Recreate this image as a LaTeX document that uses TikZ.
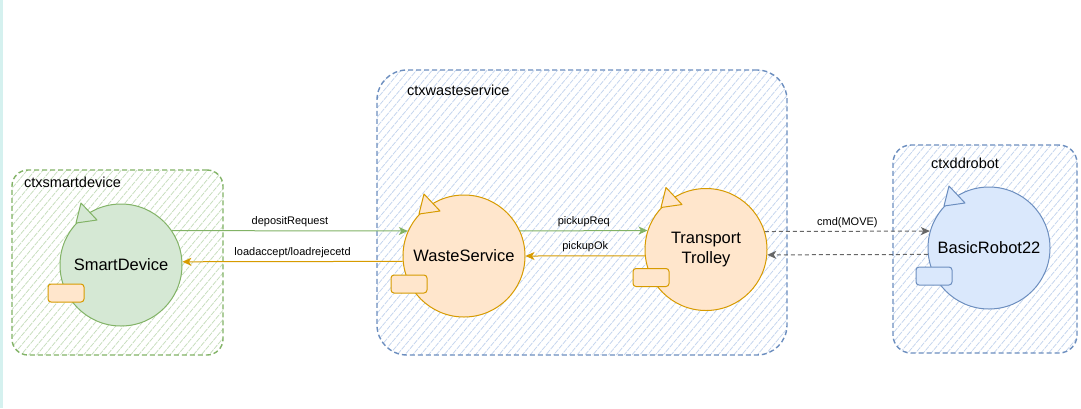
\documentclass[tikz,border=0pt]{standalone}
\usepackage{fontspec}
\setmainfont{Liberation Sans}
\usetikzlibrary{arrows.meta,patterns.meta,calc}

\definecolor{sdfill}{HTML}{D5E8D4}
\definecolor{sdline}{HTML}{82B366}
\definecolor{wsfill}{HTML}{FFE6CC}
\definecolor{wsline}{HTML}{D79B00}
\definecolor{brfill}{HTML}{DAE8FC}
\definecolor{brline}{HTML}{6C8EBF}
\definecolor{msgline}{HTML}{666666}
\definecolor{greenhatch}{HTML}{C6DDBC}
\definecolor{bluehatch}{HTML}{C3D4EE}
\definecolor{edgestrip}{HTML}{D5F1EF}

\tikzset{
  ctx/.style 2 args={draw=#1, dashed, dash pattern=on 5pt off 3pt, line width=1.4pt,
    pattern={Lines[angle=50,distance=6pt,line width=0.75pt]}, pattern color=#2,
    inner sep=0pt, outer sep=0pt},
  ctxlabel/.style={anchor=west, inner sep=0pt, font=\fontsize{14.5}{17}\selectfont},
  actor/.style 2 args={circle, draw=#2, fill=#1, line width=1pt, minimum size=122pt,
    inner sep=0pt, align=center, font=\fontsize{16.5}{20.5}\selectfont},
  inbox/.style 2 args={draw=#2, fill=#1, line width=1pt, rounded corners=3pt,
    minimum width=36pt, minimum height=18pt, inner sep=0pt},
  msg/.style={line width=1pt, -{Stealth[length=9pt,width=8pt,inset=2.5pt]}},
  msglabel/.style={font=\fontsize{11}{13}\selectfont, text=black},
}

\begin{document}
\begin{tikzpicture}[x=1pt,y=-1pt]
    \fill[white] (0,0) rectangle (1081,408);
    \useasboundingbox (0,0) rectangle (1081,408);
    \fill[edgestrip] (0,0) rectangle (3,408);

    % contexts
    \node[ctx={sdline}{greenhatch}, rounded corners=16pt, minimum width=211pt, minimum height=185pt] (ctxsd) at (117.5,262.5) {};
    \node[ctx={brline}{bluehatch}, rounded corners=30pt, minimum width=410pt, minimum height=285pt] (ctxws) at (582,212.5) {};
    \node[ctx={brline}{bluehatch}, rounded corners=18pt, minimum width=184pt, minimum height=208pt] (ctxbr) at (985,249) {};
    \node[ctxlabel] (ctxsdlabel) at ($(ctxsd.north west)+(12,12)$) {ctxsmartdevice};
    \node[ctxlabel] (ctxwslabel) at ($(ctxws.north west)+(30,20)$) {ctxwasteservice};
    \node[ctxlabel] (ctxbrlabel) at ($(ctxbr.north west)+(38,18)$) {ctxddrobot};

    % actors
    \node[actor={sdfill}{sdline}] (sd) at (121,265) {SmartDevice};
    \node[actor={wsfill}{wsline}] (ws) at (464,256) {WasteService};
    \node[actor={wsfill}{wsline}] (tt) at (706,249.5) {Transport\\Trolley};
    \node[actor={brfill}{brline}] (br) at (989,248) {BasicRobot22};

    \draw[sdline, fill=sdfill, line width=1pt, line join=round] ($(sd)+(-40,-62)$) -- ($(sd)+(-45,-42)$) -- ($(sd)+(-24,-45)$) -- cycle;
    \draw[wsline, fill=wsfill, line width=1pt, line join=round] ($(ws)+(-40,-62)$) -- ($(ws)+(-45,-42)$) -- ($(ws)+(-24,-45)$) -- cycle;
    \draw[wsline, fill=wsfill, line width=1pt, line join=round] ($(tt)+(-40,-62)$) -- ($(tt)+(-45,-42)$) -- ($(tt)+(-24,-45)$) -- cycle;
    \draw[brline, fill=brfill, line width=1pt, line join=round] ($(br)+(-40,-62)$) -- ($(br)+(-45,-42)$) -- ($(br)+(-24,-45)$) -- cycle;

    \node[inbox={wsfill}{wsline}] (sdbox) at ($(sd)+(-55,28)$) {};
    \node[inbox={wsfill}{wsline}] (wsbox) at ($(ws)+(-55,28)$) {};
    \node[inbox={wsfill}{wsline}] (ttbox) at ($(tt)+(-55,28)$) {};
    \node[inbox={brfill}{brline}] (brbox) at ($(br)+(-55,28)$) {};

    % messages
    \draw[msg, sdline] (sd.34) -- node[msglabel, above] {depositRequest} (ws.156);
    \draw[msg, wsline] (ws.185) -- node[msglabel, above] {loadaccept/loadrejecetd} (sd.3);
    \draw[msg, sdline] (ws.24) -- node[msglabel, above] {pickupReq} (tt.162);
    \draw[msg, wsline] (tt.186) -- node[msglabel, above] {pickupOk} (ws.0);
    \draw[msg, msgline, dashed, dash pattern=on 4pt off 3pt] (tt.17) -- node[msglabel, above] {cmd(MOVE)} (br.164);
    \draw[msg, msgline, dashed, dash pattern=on 4pt off 3pt] (br.186) -- (tt.355);
\end{tikzpicture}
\end{document}
